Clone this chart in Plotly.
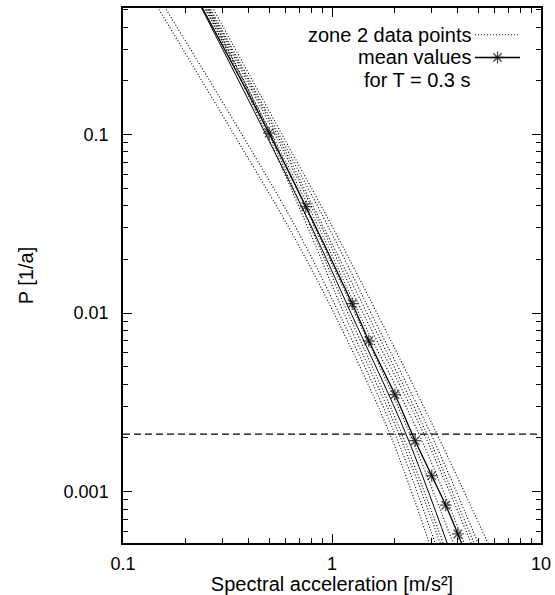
import math
import plotly.graph_objects as go

# ---------------- data ----------------
# annual probability levels at which each zone-2 curve was read
P_LEVELS = [0.52, 0.1, 0.03, 0.01, 0.0021, 0.0005]

# spectral acceleration [m/s^2] of each zone 2 curve at the P_LEVELS
ZONE2_A1 = [0.146, 0.340, 0.623, 1.022, 1.894, 2.944]
ZONE2_A2 = [0.158, 0.371, 0.673, 1.080, 2.002, 3.145]
ZONE2_B1 = [0.247, 0.489, 0.768, 1.141, 2.093, 3.323]
ZONE2_B2 = [0.253, 0.500, 0.793, 1.193, 2.162, 3.435]
ZONE2_B3 = [0.250, 0.511, 0.829, 1.288, 2.361, 3.835]
ZONE2_B4 = [0.244, 0.516, 0.867, 1.346, 2.608, 4.329]
ZONE2_B5 = [0.253, 0.534, 0.896, 1.407, 2.755, 4.677]
ZONE2_B6 = [0.256, 0.546, 0.916, 1.471, 2.848, 4.834]
ZONE2_C1 = [0.259, 0.558, 0.967, 1.537, 2.977, 5.050]
ZONE2_C2 = [0.267, 0.577, 1.011, 1.642, 3.180, 5.640]
ZONE2_CURVES = [ZONE2_A1, ZONE2_A2, ZONE2_B1, ZONE2_B2, ZONE2_B3,
                ZONE2_B4, ZONE2_B5, ZONE2_B6, ZONE2_C1, ZONE2_C2]
# one further curve drawn solid in the original
SOLID_CURVE = [0.236, 0.483, 0.802, 1.233, 2.260, 3.589]

# mean values for T = 0.3 s (first and last point only continue the line)
MEAN_SA = [0.238, 0.5, 0.75, 1.25, 1.5, 2.0, 2.5, 3.0, 3.5, 4.0, 4.21]
MEAN_P = [0.52, 0.102, 0.0395, 0.0113, 0.0070, 0.0035, 0.00193, 0.00123,
          0.00084, 0.00058, 0.0005]
MEAN_MARKED = [0, 1, 1, 1, 1, 1, 1, 1, 1, 1, 0]

HAZARD_LEVEL = 0.0021  # horizontal dashed reference line

X_RANGE = [0.1, 10]
Y_RANGE = [0.000516, 0.512]
X_TICKS = [0.1, 1, 10]
X_TICK_TEXT = ["0.1", "1", "10"]
Y_TICKS = [0.001, 0.01, 0.1]
Y_TICK_TEXT = ["0.001", "0.01", "0.1"]
X_MINOR = [m * d for d in (0.1, 1) for m in range(2, 10)]
Y_MINOR = [m * d for d in (0.0001, 0.001, 0.01, 0.1) for m in range(2, 10)]

LEGEND_LABELS = ["zone 2 data points", "mean values", "for T = 0.3 s"]

# ---------------- figure ----------------
FONT = "Liberation Sans, Arial, Helvetica, sans-serif"
DOT = "1px,2px"

fig = go.Figure()

for sa in ZONE2_CURVES:
    fig.add_trace(go.Scatter(
        x=sa, y=P_LEVELS, mode="lines",
        line=dict(color="black", width=1.1, dash=DOT, shape="spline", smoothing=1.0),
        hoverinfo="skip", showlegend=False))

fig.add_trace(go.Scatter(
    x=SOLID_CURVE, y=P_LEVELS, mode="lines",
    line=dict(color="black", width=1.0, shape="spline", smoothing=1.0),
    hoverinfo="skip", showlegend=False))

fig.add_trace(go.Scatter(
    x=MEAN_SA, y=MEAN_P, mode="lines+markers",
    line=dict(color="black", width=1.3, shape="spline", smoothing=0.8),
    marker=dict(symbol="asterisk-open", size=[10 * m for m in MEAN_MARKED],
                color="black", line=dict(color="black", width=1.3)),
    hoverinfo="skip", showlegend=False))

fig.add_shape(type="line", xref="paper", x0=0, x1=1, yref="y",
              y0=HAZARD_LEVEL, y1=HAZARD_LEVEL,
              line=dict(color="black", width=1.1, dash="7px,4px"))

# legend key (gnuplot style: text right-aligned, sample on the right)
KEY_X = [0.842, 0.950]
KEY_ROWS = [0.950, 0.9075, 0.8654]
fig.add_trace(go.Scatter(
    x=KEY_X, y=[KEY_ROWS[0]] * 2, xaxis="x2", yaxis="y2", mode="lines",
    line=dict(color="black", width=1.1, dash=DOT), hoverinfo="skip", showlegend=False))
fig.add_trace(go.Scatter(
    x=[KEY_X[0], sum(KEY_X) / 2, KEY_X[1]], y=[KEY_ROWS[1]] * 3, xaxis="x2", yaxis="y2",
    mode="lines+markers", line=dict(color="black", width=1.3),
    marker=dict(symbol="asterisk-open", size=[0, 10, 0], color="black",
                line=dict(color="black", width=1.3)),
    hoverinfo="skip", showlegend=False))
for label, row in zip(LEGEND_LABELS, KEY_ROWS):
    fig.add_annotation(x=0.837, y=row, xref="paper", yref="paper", text=label,
                       showarrow=False, xanchor="right", yanchor="middle",
                       font=dict(family=FONT, size=20, color="black"))

axis_common = dict(
    type="log", showline=True, linecolor="black", linewidth=1.5, mirror="ticks",
    ticks="inside", ticklen=9, tickwidth=1, tickcolor="black", automargin=False,
    showgrid=False, zeroline=False, tickfont=dict(family=FONT, size=18, color="black"),
)

fig.update_layout(
    width=555, height=595,
    margin=dict(l=123, r=14, t=8, b=52),
    paper_bgcolor="white", plot_bgcolor="white",
    font=dict(family=FONT, size=18, color="black"),
    showlegend=False,
    xaxis=dict(
        **axis_common,
        range=[math.log10(X_RANGE[0]), math.log10(X_RANGE[1])],
        tickmode="array", tickvals=X_TICKS, ticktext=X_TICK_TEXT,
        ticklabelstandoff=4,
        minor=dict(tickmode="array", tickvals=X_MINOR, ticks="inside", ticklen=5,
                   tickcolor="black", tickwidth=1, showgrid=False),
        title=dict(text="Spectral acceleration [m/s²]", standoff=3,
                   font=dict(family=FONT, size=20, color="black")),
    ),
    yaxis=dict(
        **axis_common,
        range=[math.log10(Y_RANGE[0]), math.log10(Y_RANGE[1])],
        tickmode="array", tickvals=Y_TICKS, ticktext=Y_TICK_TEXT,
        ticklabelstandoff=9,
        minor=dict(tickmode="array", tickvals=Y_MINOR, ticks="inside", ticklen=5,
                   tickcolor="black", tickwidth=1, showgrid=False),
        title=dict(text="P [1/a]", standoff=25,
                   font=dict(family=FONT, size=20, color="black")),
    ),
    xaxis2=dict(overlaying="x", range=[0, 1], visible=False, anchor="y2"),
    yaxis2=dict(overlaying="y", range=[0, 1], visible=False, anchor="x2"),
)

fig.write_html("out.html", config={"displayModeBar": False},
               post_script="document.body.style.margin='0';document.body.style.overflow='hidden';")
